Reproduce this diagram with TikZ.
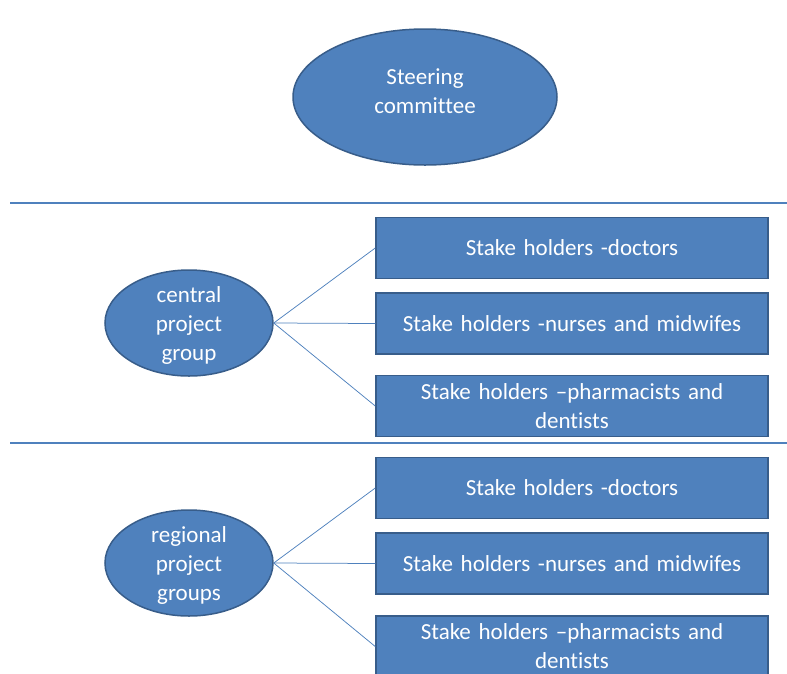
\documentclass[tikz,border=0pt]{standalone}
\usepackage{fontspec}
\setmainfont[Ligatures=NoCommon]{Carlito}
\usetikzlibrary{shapes.geometric}
\definecolor{fillblue}{HTML}{4F81BD}
\definecolor{edgeblue}{HTML}{385D8A}
\tikzset{
  oval/.style={ellipse, draw=edgeblue, fill=fillblue, line width=1.5pt, inner sep=0pt,
    text=white, align=center, font=\fontsize{23}{29}\selectfont},
  holder/.style={rectangle, draw=edgeblue, fill=fillblue, line width=1.5pt, inner sep=0pt,
    minimum width=392pt, minimum height=61pt, text width=380pt, align=center,
    text=white, font=\fontsize{23}{29}\selectfont},
  link/.style={draw=fillblue, line width=0.75pt},
  divider/.style={draw=fillblue, line width=2pt}
}
\begin{document}
\begin{tikzpicture}[x=1pt,y=-1pt]
\useasboundingbox (0,0) rectangle (787,673);
\clip (0,0) rectangle (787,673);
% steering
\node[oval, minimum width=264pt, minimum height=136pt] (steer) at (425,97) {};
\node[text=white, align=center, font=\fontsize{23}{29}\selectfont] (steertext) at (425,91) {Steering\\committee};
% dividers
\coordinate (d1a) at (10,203); \coordinate (d1b) at (787,203);
\coordinate (d2a) at (10,443); \coordinate (d2b) at (787,443);
\draw[divider] (d1a) -- (d1b);
\draw[divider] (d2a) -- (d2b);
% central
\node[oval, minimum width=168pt, minimum height=106pt] (central) at (189,323) {};
\node[text=white, align=center, font=\fontsize{23}{29}\selectfont] (centraltext) at (189,325) {central\\project\\group};
\node[holder] (c1) at (572,248) {Stake holders -doctors};
\node[holder] (c2) at (572,323.5) {Stake holders -nurses and midwifes};
\node[holder] (c3) at (572,406) {Stake holders –pharmacists and\\dentists};
\draw[link] (central.east) -- (c1.west);
\draw[link] (central.east) -- (c2.west);
\draw[link] (central.east) -- (c3.west);
% regional
\node[oval, minimum width=168pt, minimum height=106pt] (regional) at (189,563) {};
\node[text=white, align=center, font=\fontsize{23}{29}\selectfont] (regionaltext) at (189,565) {regional\\project\\groups};
\node[holder] (r1) at (572,488) {Stake holders -doctors};
\node[holder] (r2) at (572,563.5) {Stake holders -nurses and midwifes};
\node[holder] (r3) at (572,646.5) {Stake holders –pharmacists and\\dentists};
\draw[link] (regional.east) -- (r1.west);
\draw[link] (regional.east) -- (r2.west);
\draw[link] (regional.east) -- (r3.west);
\end{tikzpicture}
\end{document}
